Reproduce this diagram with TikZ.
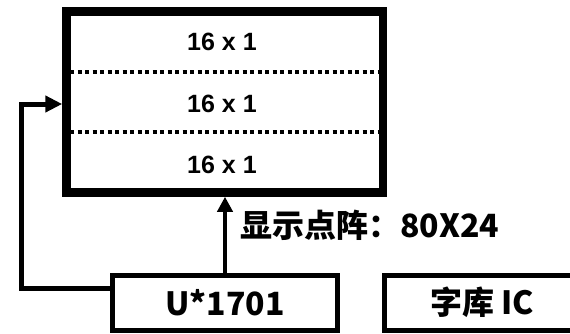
\documentclass[tikz,border=0pt]{standalone}
\usepackage{fontspec}
\setmainfont{Liberation Sans}
\newfontfamily\cjk{Noto Sans CJK SC}
\usepackage{tikz}
\usetikzlibrary{arrows.meta}

\begin{document}
\begin{tikzpicture}[x=1pt,y=-1pt,
    row/.style={draw=none,inner sep=0pt,font=\bfseries\fontsize{25}{25}\selectfont},
    chip/.style={draw,line width=5pt,inner sep=0pt,font=\cjk\bfseries\fontsize{32}{32}\selectfont},
    sep/.style={line width=4pt,dash pattern=on 4pt off 3.5pt},
    flow/.style={line width=5pt,-{Triangle[length=17pt,width=16pt]}}]
             \useasboundingbox (0,0) rectangle (570,333);

             \node[draw,line width=8.5pt,inner sep=0pt,minimum width=316.5pt,minimum height=181pt] (lcd) at (224.75,102) {};
             \node[row] (r1) at (222,42) {16 x 1};
             \node[row] (r2) at (222,103.5) {16 x 1};
             \node[row] (r3) at (222,165) {16 x 1};
             \draw[sep] (70,72) -- (379,72);
             \draw[sep] (70,132) -- (379,132);

             \node[chip,minimum width=225pt,minimum height=54.5pt] (mcu) at (225,302.75) {U*1701};
             \node[chip,minimum width=195pt,minimum height=54.5pt] (font) at (482,302.75) {字库 IC};

             % feedback and data lines
             \draw[flow,line join=miter] ([yshift=14.75pt]mcu.west) -| (21,104) -- (lcd.west |- 0,104);
             \draw[line width=4pt,-{Triangle[length=15pt,width=15pt]}] (mcu.north) -- (mcu.north |- lcd.south);
             \node[draw=none,anchor=west,inner sep=0pt,font=\cjk\bfseries\fontsize{32}{32}\selectfont] (dots) at (240,225) {显示点阵：80X24};
             \end{tikzpicture}
\end{document}
